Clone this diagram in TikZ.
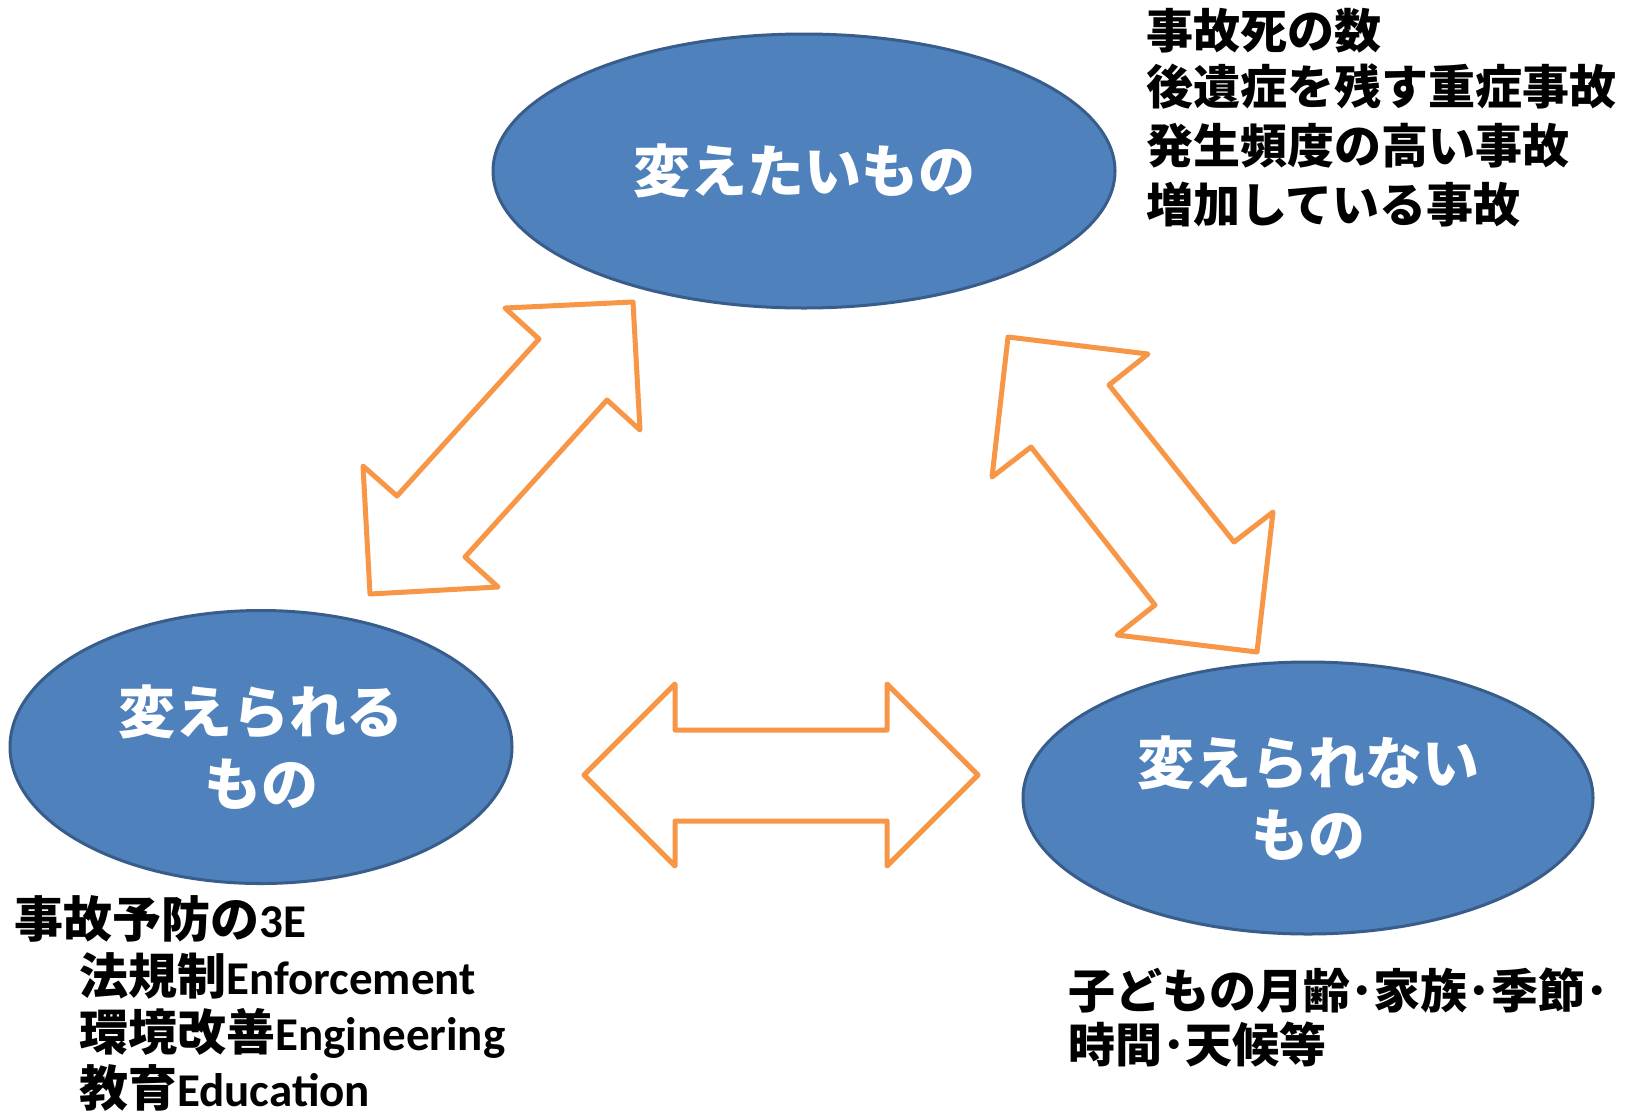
\documentclass[tikz,border=0pt]{standalone}
\usepackage{fontspec}
\usetikzlibrary{shapes.geometric}
\newfontfamily\cjk{Noto Sans CJK JP}
\newfontfamily\lat{Carlito}[BoldFont={Carlito Bold}]
\definecolor{blobfill}{HTML}{4F81BD}
\definecolor{blobline}{HTML}{385D8A}
\definecolor{arrline}{HTML}{F79646}
\newcommand{\latb}[1]{{\lat\bfseries\fontsize{47}{58}\selectfont #1}}
\begin{document}
\begin{tikzpicture}[x=1pt,y=-1pt,
  blob/.style={ellipse, draw=blobline, line width=3pt, fill=blobfill, inner sep=0pt,
    text=white, align=center, font=\cjk\bfseries\fontsize{57}{72}\selectfont},
  blockarrow/.style={draw=arrline, line width=5pt, line join=round, fill=white},
  notetext/.style={anchor=base west, inner sep=0pt, text=black, font=\cjk\bfseries\fontsize{47}{58}\selectfont},
  notetextb/.style={anchor=base west, inner sep=0pt, text=black, font=\cjk\bfseries\fontsize{49}{58}\selectfont}]
\useasboundingbox (0,0) rectangle (1629,1117);
\fill[white] (0,0) rectangle (1629,1117);

% block arrows
\draw[blockarrow] (505,308) -- (633,302) -- (640,430) -- (607,400) -- (465,557) -- (498,587)
  -- (370,594) -- (363,466) -- (397,496) -- (539,339) -- cycle;
\draw[blockarrow] (1008,337) -- (1148,354) -- (1109,385) -- (1234,542) -- (1273,512) -- (1257,652)
  -- (1117,635) -- (1155,605) -- (1031,447) -- (992,477) -- cycle;
\draw[blockarrow] (584,775) -- (675,684) -- (675,730) -- (887,730) -- (887,684) -- (978,775)
  -- (887,866) -- (887,821) -- (675,821) -- (675,866) -- cycle;

% ellipses
\node[blob, minimum width=622pt, minimum height=274pt] (want) at (804,171) {変えたいもの};
\node[blob, minimum width=502pt, minimum height=273pt] (can) at (261,747) {変えられる\\もの};
\node[blob, minimum width=570pt, minimum height=272pt] (cannot) at (1308,798) {変えられない\\もの};

% top-right notes
\node[notetext] (tr1) at (1146,48) {事故死の数};
\node[notetext] (tr2) at (1146,104) {後遺症を残す重症事故};
\node[notetext] (tr3) at (1146,163) {発生頻度の高い事故};
\node[notetext] (tr4) at (1146,222) {増加している事故};

% bottom-left notes
\node[notetextb] (bl1) at (14,937) {事故予防の\latb{3E}};
\node[notetextb] (bl2) at (79,994) {法規制\latb{Enforcement}};
\node[notetextb] (bl3) at (79,1050) {環境改善\latb{Engineering}};
\node[notetextb] (bl4) at (79,1106) {教育\latb{Education}};

% bottom-right notes
\node[notetext] (br1) at (1068,1008) {子どもの月齢･家族･季節･};
\node[notetext] (br2) at (1068,1062) {時間･天候等};
\end{tikzpicture}
\end{document}
